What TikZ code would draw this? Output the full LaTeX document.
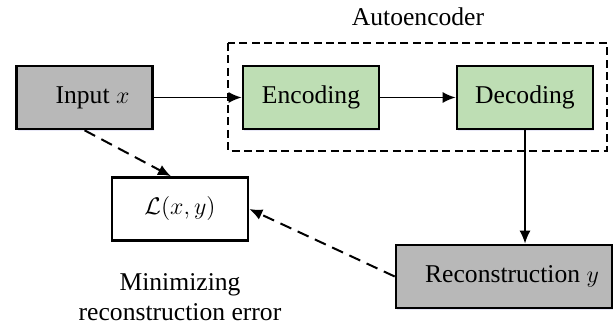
\documentclass[tikz,border=0pt]{standalone}
\usepackage{fontspec}
\setmainfont{Liberation Serif}
\usetikzlibrary{arrows.meta,calc,shadows}

\definecolor{boxgray}{RGB}{184,184,184}
\definecolor{boxgreen}{RGB}{190,222,180}

\tikzset{
  block/.style={draw=black, line width=1.3pt, minimum width=68pt, minimum height=31.5pt,
    inner sep=0pt, drop shadow={shadow xshift=0.5pt, shadow yshift=-0.9pt, fill=blue!50!gray, opacity=0.12}},
  grayblock/.style={block, fill=boxgray},
  greenblock/.style={block, fill=boxgreen},
  solidarrow/.style={line width=0.9pt, -{Latex[length=6.5pt,width=5.5pt]}},
  dasharrow/.style={line width=1pt, dash pattern=on 6pt off 3.5pt, -{Latex[length=6.5pt,width=5.5pt]}}
}

\begin{document}
\begin{tikzpicture}[x=0.5pt,y=-0.5pt]
        \useasboundingbox (0,0) rectangle (616,331);
        {\fontsize{12.8}{15.2}\selectfont

        % Autoencoder frame and its label
        \draw [line width=0.9pt, dash pattern=on 4pt off 2.2pt] (228,43) rectangle (607,151);%
        \draw (418,17) node (aelabel) {Autoencoder};%

        % Boxes
        \draw (84.5,97.5) node [grayblock] (inp) {\hspace{8pt}Input $x$};%
        \draw (311,97.5) node [greenblock] (enc) {Encoding};%
        \draw (525,97.5) node [greenblock] (dec) {Decoding};%
        \draw (180,209) node [block, fill=white] (loss) {$\mathcal{L}(x,y)$};%
        \draw (504,276.5) node [grayblock, minimum width=108pt] (rec) {\hspace{8pt}Reconstruction $y$};%

        % Loss caption
        \draw (180,297) node [align=center] (caption) {Minimizing\\reconstruction error};%

        % Solid arrows
        \draw [solidarrow] (inp) -- (enc);%
        \draw [solidarrow] (enc) -- (dec);%
        \draw [solidarrow] (dec) -- (dec |- rec.north);%

        % Dashed arrows into the loss
        \draw [dasharrow] (inp.south) -- ($(loss.north)+(-9,0)$);%
        \draw [dasharrow] (rec.west) -- (loss.east);%
        }
\end{tikzpicture}
\end{document}
